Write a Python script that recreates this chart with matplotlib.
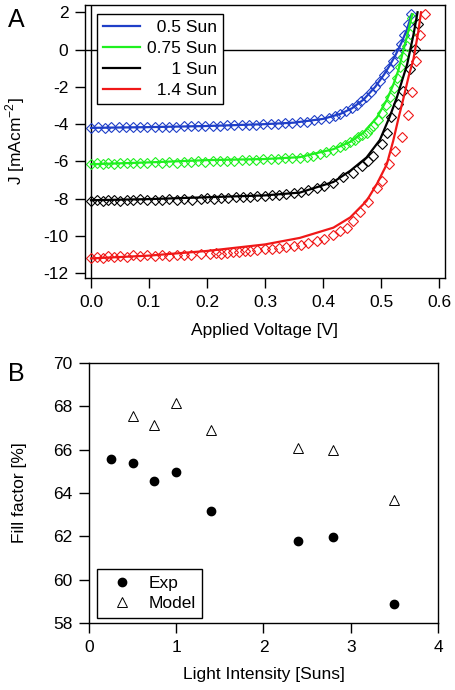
#!/usr/bin/env python3

import matplotlib
matplotlib.use("Agg")
import matplotlib.pyplot as plt

plt.rcParams["font.family"] = ["Liberation Sans", "DejaVu Sans"]
plt.rcParams["font.size"] = 12.5
plt.rcParams["axes.unicode_minus"] = False

# --- panel A: J-V curves (measured = diamonds, model = lines) ---
suns_labels = ["  0.5 Sun", "0.75 Sun", "     1 Sun", "  1.4 Sun"]
curve_colors = ["#1f3fc8", "#1ff01f", "black", "#f01818"]

blue_line_v = [0.0, 0.1, 0.2, 0.3, 0.35, 0.4, 0.43, 0.45, 0.47, 0.49, 0.505, 0.515, 0.525, 0.535, 0.545, 0.553]
blue_line_j = [-4.2, -4.16, -4.1, -4.0, -3.92, -3.72, -3.45, -3.15, -2.68, -2.0, -1.35, -0.85, -0.3, 0.35, 1.1, 1.9]

green_line_v = [0.0, 0.1, 0.2, 0.3, 0.36, 0.418, 0.447, 0.47, 0.493, 0.51, 0.521, 0.53, 0.538, 0.546, 0.554]
green_line_j = [-6.15, -6.05, -5.93, -5.87, -5.77, -5.34, -4.95, -4.45, -3.64, -2.7, -1.9, -1.1, -0.1, 0.85, 1.9]

black_line_v = [0.0, 0.1, 0.2, 0.3, 0.36, 0.418, 0.447, 0.475, 0.498, 0.515, 0.527, 0.537, 0.545, 0.556, 0.563]
black_line_j = [-8.08, -8.02, -7.92, -7.82, -7.67, -7.1, -6.5, -5.79, -4.85, -3.6, -2.6, -1.6, -0.8, 0.8, 2.0]

red_line_v = [0.0, 0.1, 0.2, 0.3, 0.36, 0.418, 0.447, 0.475, 0.493, 0.51, 0.521, 0.53, 0.538, 0.548, 0.556, 0.564, 0.569]
red_line_j = [-11.2, -11.05, -10.8, -10.45, -10.1, -9.55, -9.0, -8.12, -7.2, -6.15, -4.9, -3.7, -2.7, -1.4, -0.5, 0.9, 2.0]

blue_pts_v = [0.000, 0.012, 0.025, 0.035, 0.048, 0.060, 0.072, 0.085, 0.097, 0.110, 0.122, 0.135,
              0.147, 0.160, 0.172, 0.185, 0.197, 0.210, 0.222, 0.235, 0.247, 0.260, 0.272, 0.285,
              0.297, 0.310, 0.322, 0.335, 0.347, 0.360, 0.372, 0.385, 0.397, 0.410, 0.420, 0.430,
              0.440, 0.450, 0.458, 0.466, 0.474, 0.482, 0.490, 0.498, 0.506, 0.513, 0.520, 0.527,
              0.534, 0.540, 0.546, 0.552]
blue_pts_j = [-4.20, -4.18, -4.19, -4.17, -4.18, -4.16, -4.17, -4.15, -4.16, -4.14, -4.15, -4.13,
              -4.14, -4.12, -4.12, -4.11, -4.10, -4.10, -4.08, -4.07, -4.06, -4.05, -4.04, -4.03,
              -4.01, -4.00, -3.98, -3.96, -3.93, -3.90, -3.86, -3.80, -3.74, -3.66, -3.58, -3.45,
              -3.30, -3.14, -2.98, -2.78, -2.55, -2.30, -2.02, -1.70, -1.35, -1.00, -0.60, -0.20,
              0.30, 0.80, 1.35, 1.90]

green_pts_v = [0.000, 0.010, 0.020, 0.030, 0.040, 0.050, 0.062, 0.072, 0.085, 0.097, 0.110, 0.122,
               0.135, 0.148, 0.160, 0.172, 0.185, 0.197, 0.210, 0.222, 0.235, 0.247, 0.260, 0.272,
               0.285, 0.297, 0.310, 0.322, 0.335, 0.347, 0.360, 0.372, 0.383, 0.395, 0.406, 0.418,
               0.429, 0.438, 0.447, 0.455, 0.461, 0.468, 0.475, 0.481, 0.487, 0.494, 0.502, 0.509,
               0.516, 0.522, 0.527, 0.533, 0.538, 0.544, 0.550, 0.553]
green_pts_j = [-6.15, -6.10, -6.13, -6.08, -6.12, -6.10, -6.07, -6.10, -6.06, -6.09, -6.05, -6.07,
               -6.04, -6.06, -6.02, -6.04, -6.00, -6.01, -5.98, -5.99, -5.96, -5.95, -5.93, -5.92,
               -5.90, -5.89, -5.87, -5.85, -5.83, -5.81, -5.79, -5.74, -5.70, -5.62, -5.52, -5.40,
               -5.25, -5.12, -4.98, -4.85, -4.71, -4.58, -4.45, -4.27, -4.09, -3.80, -3.40, -3.00,
               -2.56, -2.05, -1.50, -0.95, -0.41, 0.20, 0.84, 1.70]

black_pts_v = [0.000, 0.010, 0.020, 0.030, 0.040, 0.050, 0.062, 0.072, 0.085, 0.097, 0.110, 0.122,
               0.135, 0.148, 0.160, 0.175, 0.190, 0.200, 0.212, 0.225, 0.237, 0.250, 0.262, 0.275,
               0.287, 0.300, 0.312, 0.325, 0.337, 0.350, 0.362, 0.375, 0.389, 0.402, 0.418, 0.435,
               0.452, 0.467, 0.478, 0.487, 0.501, 0.510, 0.518, 0.530, 0.538, 0.550, 0.559, 0.564]
black_pts_j = [-8.10, -8.05, -8.12, -8.08, -8.05, -8.10, -8.06, -8.09, -8.04, -8.08, -8.05, -8.08,
               -8.03, -8.06, -8.02, -8.05, -8.00, -7.98, -8.02, -7.96, -7.95, -7.92, -7.93, -7.88,
               -7.87, -7.85, -7.82, -7.78, -7.76, -7.70, -7.66, -7.55, -7.42, -7.30, -7.13, -6.86,
               -6.60, -6.24, -6.00, -5.70, -5.07, -4.50, -3.64, -2.92, -2.20, -1.04, 0.04, 1.38]

red_pts_v = [0.000, 0.010, 0.020, 0.030, 0.040, 0.050, 0.062, 0.072, 0.085, 0.097, 0.110, 0.122,
             0.135, 0.148, 0.160, 0.172, 0.190, 0.205, 0.215, 0.225, 0.235, 0.245, 0.255, 0.265,
             0.275, 0.287, 0.300, 0.312, 0.325, 0.337, 0.350, 0.362, 0.375, 0.389, 0.402, 0.418,
             0.430, 0.441, 0.452, 0.464, 0.478, 0.493, 0.501, 0.513, 0.524, 0.536, 0.546, 0.553,
             0.560, 0.568, 0.576]
red_pts_j = [-11.20, -11.12, -11.17, -11.08, -11.10, -11.05, -11.10, -11.04, -11.08, -11.03, -11.06, -11.02,
             -11.05, -11.00, -11.04, -11.00, -10.98, -10.95, -10.92, -10.95, -10.90, -10.88, -10.85, -10.80,
             -10.82, -10.75, -10.72, -10.68, -10.65, -10.60, -10.55, -10.48, -10.40, -10.27, -10.15, -9.95,
             -9.75, -9.55, -9.20, -8.70, -8.20, -7.40, -7.04, -6.15, -5.45, -4.70, -3.50, -2.25,
             -0.60, 0.80, 1.88]

line_v = [blue_line_v, green_line_v, black_line_v, red_line_v]
line_j = [blue_line_j, green_line_j, black_line_j, red_line_j]
pts_v = [blue_pts_v, green_pts_v, black_pts_v, red_pts_v]
pts_j = [blue_pts_j, green_pts_j, black_pts_j, red_pts_j]

# --- panel B: fill factor vs light intensity ---
exp_suns = [0.25, 0.5, 0.75, 1.0, 1.4, 2.4, 2.8, 3.5]
exp_ff = [65.55, 65.4, 64.55, 64.95, 63.15, 61.8, 61.95, 58.9]
model_suns = [0.5, 0.75, 1.0, 1.4, 2.4, 2.8, 3.5]
model_ff = [67.55, 67.15, 68.15, 66.9, 66.1, 66.0, 63.7]


fig = plt.figure(figsize=(4.55, 6.9), dpi=100)
ax_a = fig.add_axes([0.1868, 0.5971, 0.7912, 0.3957])
ax_b = fig.add_axes([0.1956, 0.0971, 0.767, 0.3768])

for ax in (ax_a, ax_b):
    ax.tick_params(direction="out", length=7.5, width=1, pad=4.5, top=False, right=False)
    for spine in ax.spines.values():
        spine.set_linewidth(1)

ax_a.axhline(0, color="black", lw=1, zorder=1)
ax_a.axvline(0, color="black", lw=1, zorder=1)
for v, j, lv, lj, color, label in zip(pts_v, pts_j, line_v, line_j, curve_colors, suns_labels):
    ax_a.plot(v, j, linestyle="none", marker="D", markersize=5, markerfacecolor="none",
              markeredgecolor=color, markeredgewidth=0.8, zorder=2)
    ax_a.plot(lv, lj, color=color, lw=1.6, label=label, zorder=3)

ax_a.set_xlim(-0.0103, 0.6103)
ax_a.set_ylim(-12.25, 2.39)
ax_a.set_xticks([0.0, 0.1, 0.2, 0.3, 0.4, 0.5, 0.6])
ax_a.set_xticklabels(["0.0", "0.1", "0.2", "0.3", "0.4", "0.5", "0.6"])
ax_a.set_yticks([-12, -10, -8, -6, -4, -2, 0, 2])
ax_a.set_xlabel("Applied Voltage [V]")
ax_a.set_ylabel("J [mAcm$^\\mathregular{-2}$]")
ax_a.xaxis.set_label_coords(0.5, -0.165)
ax_a.yaxis.set_label_coords(-0.161, 0.5)
leg_a = ax_a.legend(loc="upper left", bbox_to_anchor=(0.033, 0.967), borderaxespad=0,
                    fancybox=False, framealpha=1, edgecolor="black", borderpad=0.36,
                    labelspacing=0.33, handlelength=2.1, handletextpad=0.4)
leg_a.get_frame().set_linewidth(1)

ax_b.plot(exp_suns, exp_ff, linestyle="none", marker="o", markersize=6, color="black", label="Exp")
ax_b.plot(model_suns, model_ff, linestyle="none", marker="^", markersize=6.5, markerfacecolor="white",
          markeredgecolor="black", markeredgewidth=0.7, label="Model")
ax_b.set_xlim(0, 4)
ax_b.set_ylim(58, 70)
ax_b.set_xticks([0, 1, 2, 3, 4])
ax_b.set_yticks([58, 60, 62, 64, 66, 68, 70])
ax_b.set_xlabel("Light Intensity [Suns]")
ax_b.set_ylabel("Fill factor [%]")
ax_b.xaxis.set_label_coords(0.5, -0.169)
ax_b.yaxis.set_label_coords(-0.178, 0.5)
leg_b = ax_b.legend(loc="lower left", bbox_to_anchor=(0.023, 0.019), borderaxespad=0,
                    fancybox=False, framealpha=1, edgecolor="black", borderpad=0.4,
                    labelspacing=0.3, handlelength=2.1, handletextpad=0.45)
leg_b.get_frame().set_linewidth(1)

fig.text(0.018, 0.988, "A", fontsize=18, va="top", ha="left")
fig.text(0.018, 0.475, "B", fontsize=18, va="top", ha="left")

fig.savefig("out.png", dpi=100)
